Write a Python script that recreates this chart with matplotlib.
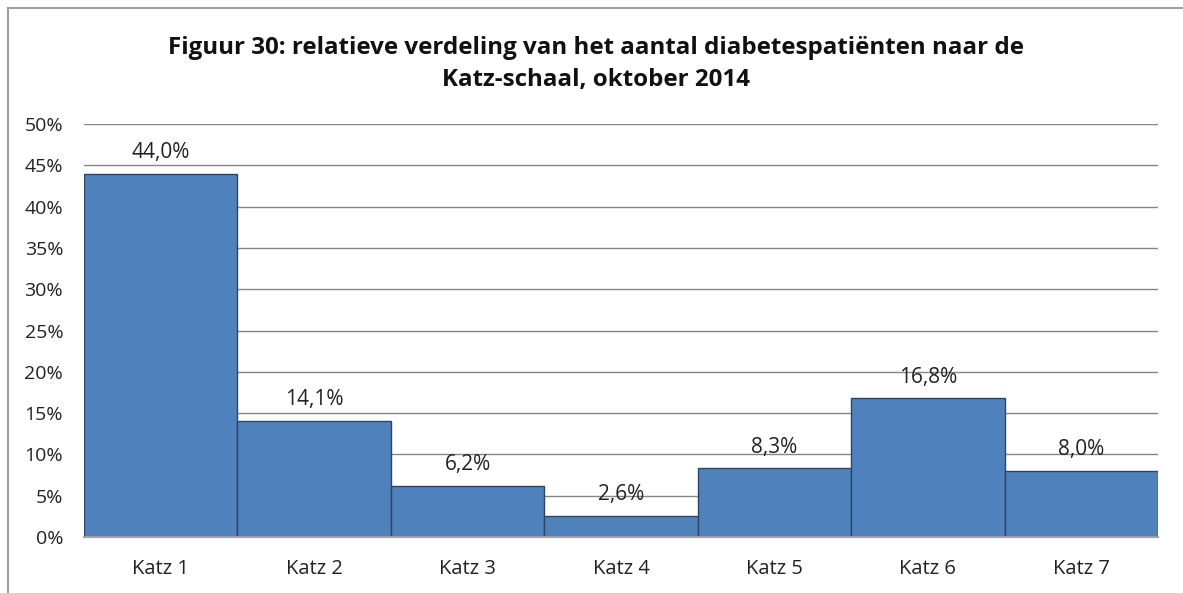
import matplotlib.pyplot as plt
from matplotlib.lines import Line2D
from matplotlib.ticker import FuncFormatter

plt.rcParams['font.family'] = ['Open Sans', 'DejaVu Sans']

# data
categorieen = ["Katz 1", "Katz 2", "Katz 3", "Katz 4", "Katz 5", "Katz 6", "Katz 7"]
percentages = [44.0, 14.1, 6.2, 2.6, 8.3, 16.8, 8.0]
y_ticks = [0, 5, 10, 15, 20, 25, 30, 35, 40, 45, 50]

titel = ("Figuur 30: relatieve verdeling van het aantal diabetespatiënten naar de\n"
         "Katz-schaal, oktober 2014")

W, H = 1183, 593
fig = plt.figure(figsize=(W / 100, H / 100), dpi=100)
ax = fig.add_axes([84 / W, 1 - 537 / H, (1158 - 84) / W, (537 - 124) / H])

# kader rond de grafiek (rechts en onder vallen buiten beeld)
fig.add_artist(Line2D([8 / W, 1], [1 - 8 / H, 1 - 8 / H], color="#a0a0a0", lw=1.5))
fig.add_artist(Line2D([8 / W, 8 / W], [0, 1 - 8 / H], color="#a0a0a0", lw=1.5))

x = range(len(categorieen))
ax.bar(x, percentages, width=1.0, color="#4f81bd", edgecolor="#2c4563",
       linewidth=1.0, zorder=3)

for xi, v in zip(x, percentages):
    ax.text(xi, v + 1.9, f"{v:.1f}%".replace(".", ","), ha="center", va="baseline",
            fontsize=15, color="#222222")

ax.set_xlim(-0.5, len(categorieen) - 0.5)
ax.set_ylim(0, 50)
ax.set_yticks(y_ticks)
ax.yaxis.set_major_formatter(FuncFormatter(lambda v, p: f"{v:.0f}%"))
ax.set_xticks(list(x))
ax.set_xticklabels(categorieen)
ax.tick_params(axis="both", length=0, colors="#222222")
ax.tick_params(axis="x", pad=16, labelsize=14.5)
ax.tick_params(axis="y", pad=15, labelsize=14)

ax.grid(axis="y", color="#868686", linewidth=1.0, zorder=0)
for s in ["top", "right", "left"]:
    ax.spines[s].set_visible(False)
ax.spines["bottom"].set_color("#a0a0a0")
ax.spines["bottom"].set_linewidth(1.5)
ax.spines["bottom"].set_zorder(4)

fig.text(596 / W, 1 - 64 / H, titel, ha="center", va="center", fontsize=17.4,
         fontweight="bold", linespacing=1.42, color="#111111")

fig.savefig("out.png", dpi=100)
